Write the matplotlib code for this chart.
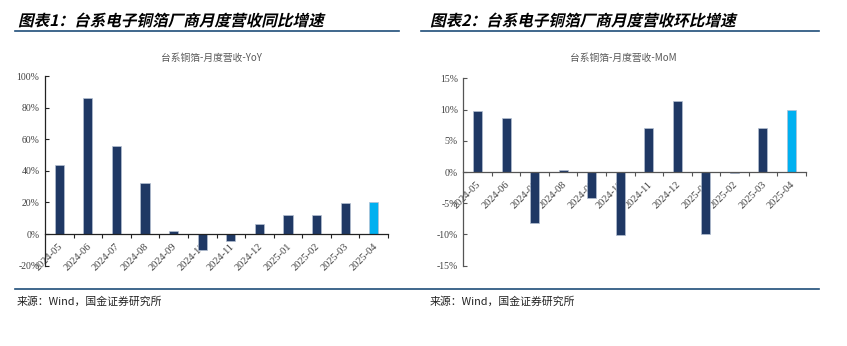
import numpy as np
import matplotlib.pyplot as plt
from matplotlib.ticker import FuncFormatter, FixedLocator
from matplotlib.textpath import TextPath
from matplotlib.font_manager import FontProperties
from matplotlib.patches import PathPatch
from matplotlib.transforms import Affine2D, ScaledTranslation
from matplotlib.lines import Line2D

plt.rcParams['font.family'] = ['Liberation Serif', 'Noto Sans CJK SC', 'DejaVu Sans']

# monthly revenue growth, %
months = ['2024-05', '2024-06', '2024-07', '2024-08', '2024-09', '2024-10',
          '2024-11', '2024-12', '2025-01', '2025-02', '2025-03', '2025-04']
yoy = [43.4, 85.9, 55.6, 32.3, 2.1, -10.3, -4.2, 6.2, 11.9, 11.9, 19.7, 20.3]
mom = [9.8, 8.7, -8.2, 0.3, -4.2, -10.1, 7.1, 11.3, -9.9, -0.1, 7.0, 10.0]

W, H = 847, 346
navy = '#1F3864'
sky = '#00B0F0'
rule = '#1F4E79'

fig = plt.figure(figsize=(W / 100, H / 100), dpi=100)


def px(x0, y0, x1, y1):
    # pixel box (top-left origin) -> figure fraction rect
    return [x0 / W, 1 - y1 / H, (x1 - x0) / W, (y1 - y0) / H]


def slanted_title(x, y, s):
    prop = FontProperties(family='Noto Sans CJK SC', weight='bold')
    path = TextPath((0, 0), s, size=15.6, prop=prop)
    tr = Affine2D().skew_deg(13, 0).translate(x, H - y)
    fig.add_artist(PathPatch(path, transform=tr, facecolor='black', lw=0))


def hline(x0, x1, y):
    fig.add_artist(Line2D([x0 / W, x1 / W], [1 - y / H, 1 - y / H],
                          transform=fig.transFigure, color=rule, lw=1.2))


def bar_panel(rect, values, ylim, step, title, title_xy, spine_color):
    ax = fig.add_axes(rect)
    x = np.arange(len(months))
    colors = [navy] * (len(values) - 1) + [sky]
    ax.bar(x, values, width=0.32, color=colors, edgecolor='#B4C0D2',
           linewidth=0.5, zorder=2)
    ax.set_xlim(-0.5, len(months) - 0.5)
    ax.set_ylim(*ylim)
    ax.yaxis.set_major_locator(FixedLocator(np.arange(ylim[0], ylim[1] + 1, step)))
    ax.yaxis.set_major_formatter(FuncFormatter(lambda v, pos: '%d%%' % v))
    for side in ('top', 'right'):
        ax.spines[side].set_visible(False)
    ax.spines['bottom'].set_position(('data', 0))
    for side in ('left', 'bottom'):
        ax.spines[side].set_color(spine_color)
        ax.spines[side].set_linewidth(0.9)
    ax.tick_params(axis='y', direction='in', length=3, width=0.8,
                   color=spine_color, labelsize=7, labelcolor='#404040', pad=4)
    ax.set_xticks(x)
    ax.set_xticklabels(months, rotation=45, ha='right', va='center',
                       rotation_mode='anchor', fontsize=7.5, color='#404040')
    ax.set_xticks(np.arange(0.5, len(months)), minor=True)
    ax.tick_params(axis='x', which='major', length=0, pad=8)
    ax.tick_params(axis='x', which='minor', direction='out', length=3,
                   width=0.8, color=spine_color)
    shift = ScaledTranslation(2 / 100, 0, fig.dpi_scale_trans)
    for lab in ax.get_xticklabels():
        lab.set_transform(lab.get_transform() + shift)
    fig.text(title_xy[0] / W, 1 - title_xy[1] / H, title, ha='center',
             va='center', fontsize=7, color='#595959',
             family=['Noto Sans CJK SC', 'DejaVu Sans'])
    return ax


bar_panel(px(45, 76, 388, 265.7), yoy, (-20, 100), 20,
          '台系铜箔-月度营收-YoY', (211.5, 58.3), '#222222')
bar_panel(px(463.3, 78.3, 805.7, 265.7), mom, (-15, 15), 5,
          '台系铜箔-月度营收-MoM', (623, 58.3), '#555555')

slanted_title(18, 26, '图表1：台系电子铜箔厂商月度营收同比增速')
slanted_title(430, 26, '图表2：台系电子铜箔厂商月度营收环比增速')
hline(15, 399, 31)
hline(421, 819, 31)
hline(15, 819, 289.3)

for sx in (17, 430):
    fig.text(sx / W, 1 - 301.5 / H, '来源：Wind，国金证券研究所', ha='left',
             va='center', fontsize=7.8, color='#222222',
             family=['Noto Sans CJK SC', 'DejaVu Sans'])

fig.savefig('out.png', dpi=100)
